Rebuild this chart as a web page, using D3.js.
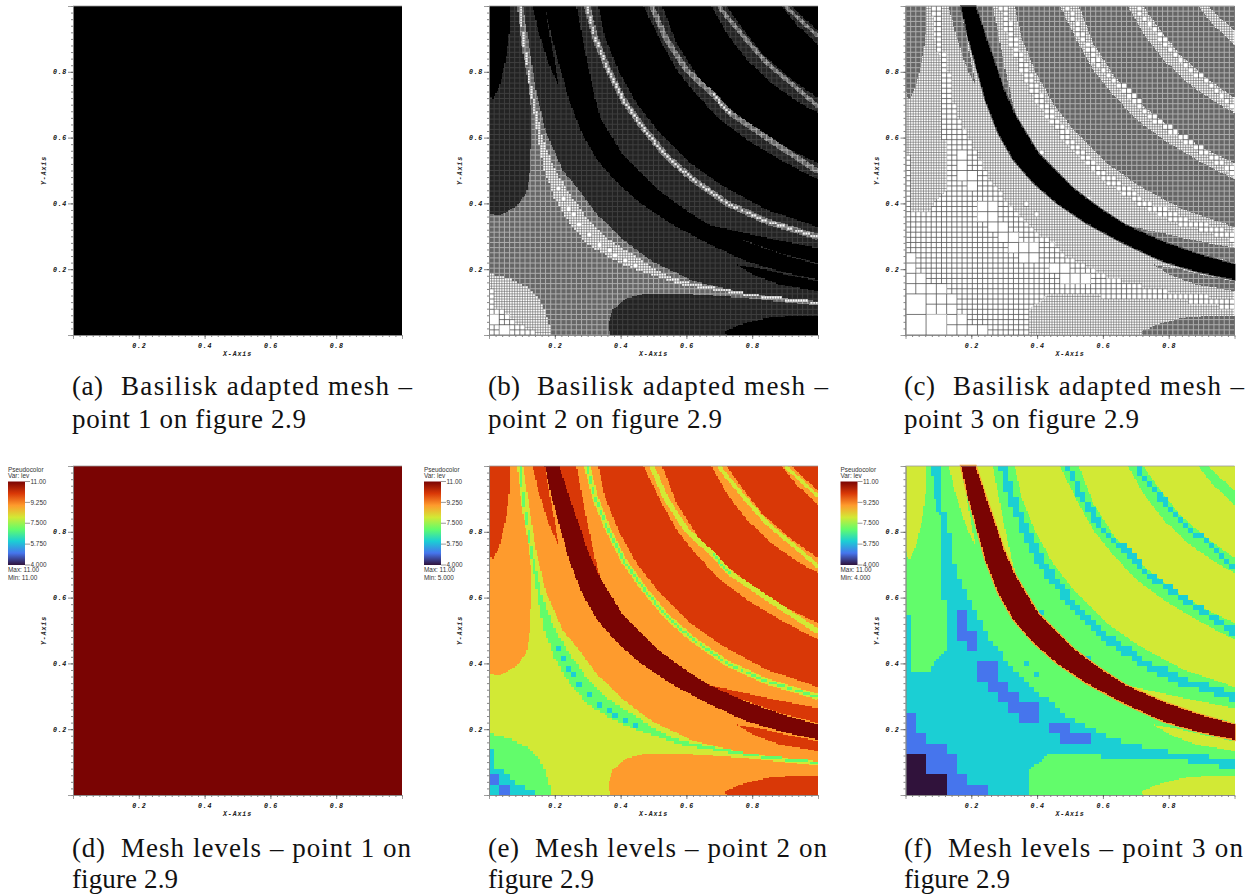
<!DOCTYPE html>
<html>
<head>
<meta charset="utf-8">
<script src="https://cdnjs.cloudflare.com/ajax/libs/d3/7.8.5/d3.min.js"></script>
<style>
html, body { margin: 0; padding: 0; background: #fff; }
svg { display: block; }
</style>
</head>
<body>
<div id="chart"></div>
<script>
// Mesh refinement levels and their pseudocolor
var levels = [4, 5, 6, 7, 8, 9, 10, 11];
var levelColors = ['#30123b', '#4675ed', '#1bcfd4', '#62fc6b', '#d2e935', '#fe9b2d', '#d93807', '#7a0403'];
var legendTicks = ['11.00', '9.250', '7.500', '5.750', '4.000'];
var majorTicks = [0.2, 0.4, 0.6, 0.8];
var minorTicks = d3.range(1, 50).map(function(i){ return i / 50; });

// Region outlines, in x/y axis units
var fullSquare = [[0, 0], [1, 0], [1, 1], [0, 1]];
var wedgeTopLeft = [[0, 1], [.061, 1], [.061, .918], [.053, .847], [.032, .756], [.014, .717], [.007, .72], [0, .746]];
var wedgeLeft = [[.132, 1], [.169, 1], [.213, .754], [.18, .827], [.149, .928]];
var wedgeRight = [[.215, 1], [.266, 1], [.281, .918], [.301, .817], [.321, .725], [.337, .665], [.296, .715], [.251, .817], [.225, .918]];
var stripA = [[.332, 1], [.352, .908], [.392, .806], [.448, .705], [.519, .614], [.611, .523], [.712, .452], [.844, .381], [1, .328], [1, .472], [.884, .533], [.783, .594], [.702, .655], [.631, .73], [.57, .806], [.514, .908], [.469, 1]];
var stripB = [[.527, 1], [.57, .888], [.631, .791], [.712, .705], [.813, .624], [.905, .568], [1, .523], [1, .675], [.945, .705], [.864, .761], [.783, .837], [.722, .918], [.676, 1]];
var stripC = [[.722, 1], [.773, .928], [.834, .852], [.915, .781], [1, .72], [1, .882], [.935, .943], [.889, 1]];
var stripD = [[.92, 1], [1, 1], [1, .923]];
var lineA = [[.298, 1], [.321, .908], [.362, .806], [.408, .715], [.469, .629], [.54, .543], [.621, .472], [.722, .401], [.844, .345], [1, .298]];
var lineB = [[.494, 1], [.54, .898], [.6, .806], [.682, .73], [.732, .675], [.884, .573], [1, .497]];
var lineBPart = [[.682, .73], [.732, .675]];
var lineC = [[.697, 1], [.773, .908], [.844, .827], [.935, .751], [1, .695]];
var lineD = [[.9, 1], [1, .908]];
var darkBand = [[.169, 1], [.19, .908], [.215, .817], [.243, .715], [.282, .614], [.328, .533], [.39, .462], [.46, .401], [.55, .34], [.661, .28], [.783, .224], [.884, .194], [1, .168],
	[1, .214], [.884, .247], [.783, .283], [.667, .335], [.59, .385], [.51, .445], [.403, .553], [.335, .665], [.297, .75], [.268, .837], [.24, .918], [.213, 1]];
var sliverUpper = [[.666, .335], [.732, .32], [.844, .295], [1, .264], [1, .219], [.884, .249], [.783, .285], [.712, .31]];
var sliverLower = [[.753, .214], [.813, .204], [.905, .183], [1, .163], [1, .133], [.884, .153], [.803, .183]];
var bottomRight = [[.717, .011], [.763, .031], [.844, .052], [.935, .06], [1, .06], [1, 0], [.722, 0]];

// Point 2 only
var upperRight = [[.103, 1], [.119, .898], [.144, .736], [.174, .614], [.225, .5], [.27, .445], [.33, .365], [.408, .29], [.499, .222], [.621, .165], [.783, .125], [1, .102], [1, 1]];
var leftBlob = [[0, 1], [.086, 1], [.098, .888], [.116, .786], [.129, .685], [.126, .513], [.114, .432], [.083, .391], [.027, .361], [0, .371]];
var bottomBlob = [[.367, 0], [.362, .036], [.377, .077], [.418, .112], [.479, .126], [.58, .126], [.783, .112], [1, .089], [1, 0]];
var cornerGreen = [[0, .188], [.073, .168], [.114, .148], [.154, .107], [.18, .047], [.19, 0], [0, 0]];
var cornerCyan = [[0, .143], [.017, .143], [.017, .082], [.048, .077], [.078, .031], [.139, .016], [.139, 0], [0, 0]];
var greenBand = [[.091, 1], [.103, .888], [.118, .786], [.134, .685], [.15, .593], [.167, .502], [.197, .421], [.24, .345], [.3, .275], [.377, .229], [.458, .194], [.58, .153], [.702, .133], [.834, .112], [1, .095],
	[1, .102], [.834, .119], [.702, .142], [.58, .166], [.509, .196], [.448, .239], [.377, .28], [.31, .34], [.25, .421], [.2, .502], [.164, .593], [.144, .685], [.124, .786], [.109, .888], [.098, 1]];
var cyanCells = [[.211, .446], [.227, .414], [.242, .383], [.259, .368], [.274, .336], [.305, .305], [.337, .274], [.368, .258], [.383, .242], [.415, .227], [.445, .212]];
var blueCells = [[.016, .047], [.047, .016]];

// Point 3 only
var coarseArea = [[0, 1], [.11, 1], [.11, .867], [.125, .857], [.142, .725], [.17, .644], [.206, .573], [.252, .482], [.312, .401], [.373, .33], [.444, .279], [.505, .23], [.596, .184], [.718, .148], [.86, .123], [1, .111], [1, 0], [0, 0]];
var coarseLeft = [[0, 1], [.079, 1], [.094, .862], [.11, .852], [.11, .594], [.125, .594], [.125, .442], [.079, .391], [.077, .376], [.016, .376], [.016, .548], [0, .548]];
var coarseBottom = [[.376, 0], [.376, .077], [.439, .126], [.596, .126], [.596, .112], [.86, .112], [.86, .097], [.956, .097], [.956, .08], [1, .08], [1, 0]];
var blueCorner = [[0, .249], [.03, .249], [.03, .188], [.064, .188], [.064, .158], [.125, .158], [.125, .126], [.157, .126], [.157, .062], [.189, .062], [.189, .031], [.252, .031], [.252, 0], [0, 0]];
var darkCorner = [[0, .126], [.064, .126], [.064, .064], [.125, .064], [.125, 0], [0, 0]];
var blueStep1 = [[.157, .563], [.189, .563], [.189, .5], [.22, .5], [.22, .438], [.189, .438], [.189, .469], [.157, .469]];
var blueStep2 = [[.22, .407], [.282, .407], [.282, .344], [.314, .344], [.314, .312], [.345, .312], [.345, .281], [.408, .281], [.408, .219], [.345, .219], [.345, .249], [.314, .249], [.314, .281], [.283, .281], [.283, .312], [.252, .312], [.252, .344], [.22, .344]];
var blueStep3 = [[.439, .219], [.502, .219], [.502, .188], [.564, .188], [.564, .156], [.471, .156], [.471, .188], [.439, .188]];
var coarseSpecks = [[.414, .555], [.368, .399], [.399, .369], [.556, .414]];

var captionLabels = ['(a)', '(b)', '(c)', '(d)', '(e)', '(f)'];
var captionFirst = ['Basilisk adapted mesh –', 'Basilisk adapted mesh –', 'Basilisk adapted mesh –', 'Mesh levels – point 1 on', 'Mesh levels – point 2 on', 'Mesh levels – point 3 on'];
var captionSecond = ['point 1 on figure 2.9', 'point 2 on figure 2.9', 'point 3 on figure 2.9', 'figure 2.9', 'figure 2.9', 'figure 2.9'];
var legendMins = ['11.00', '5.000', '4.000'];

var width = 1251;
var height = 895;
var plotSize = 329;
var colX = [73, 489, 905.5];
var rowY = [6, 466];
var labelEnds = [[103, 121, 412, 306], [520, 537, 828, 722], [935, 953, 1244, 1139], [105, 121, 411, 178], [519, 535, 827, 594], [932, 948, 1243, 1010]];
var labelStarts = [72, 488, 904];
var baselines = [[395, 428], [857, 888]];

var x = d3.scaleLinear().domain([0, 1]).range([0, plotSize]);
var y = d3.scaleLinear().domain([0, 1]).range([plotSize, 0]);
var colorOf = d3.scaleOrdinal().domain(levels).range(levelColors);
var clipCount = 0;

var svg = d3.select('#chart').append('svg').attr('width', width).attr('height', height)
	.style('background', '#fff');
var defs = svg.append('defs');

var gradient = defs.append('linearGradient').attr('id', 'levelRamp')
	.attr('x1', 0).attr('y1', 1).attr('x2', 0).attr('y2', 0);
levels.forEach(function(l, i){
	gradient.append('stop').attr('offset', i / (levels.length - 1)).attr('stop-color', levelColors[i]);
});

// Turns a read-off centre line into a thin outline
var thicken = function(line, half){
	var left = [], right = [];
	line.forEach(function(p, i){
		var a = line[Math.max(i - 1, 0)];
		var b = line[Math.min(i + 1, line.length - 1)];
		var dx = b[0] - a[0], dy = b[1] - a[1];
		var len = Math.sqrt(dx * dx + dy * dy);
		left.push([p[0] - dy / len * half, p[1] + dx / len * half]);
		right.unshift([p[0] + dy / len * half, p[1] - dx / len * half]);
	});
	return left.concat(right);
};

// The square of the level's grid that holds a point
var cellOutline = function(p, level){
	var n = Math.pow(2, level);
	var i = Math.floor(p[0] * n), j = Math.floor(p[1] * n);
	return [[i / n, j / n], [(i + 1) / n, j / n], [(i + 1) / n, (j + 1) / n], [i / n, (j + 1) / n]];
};

// A region is only ever refined in whole cells, so fill it cell by cell
var blockPath = function(shape, level){
	var n = Math.pow(2, Math.min(level, 8));
	var xs = d3.extent(shape, function(p){ return p[0]; });
	var ys = d3.extent(shape, function(p){ return p[1]; });
	var i0 = Math.max(Math.floor(xs[0] * n), 0), i1 = Math.min(Math.ceil(xs[1] * n), n);
	var j0 = Math.max(Math.floor(ys[0] * n), 0), j1 = Math.min(Math.ceil(ys[1] * n), n);
	var d = '';
	for(var j = j0; j < j1; j++){
		var start = -1;
		for(var i = i0; i <= i1; i++){
			var inside = i < i1 && d3.polygonContains(shape, [(i + 0.5) / n, (j + 0.5) / n]);
			if(inside && start < 0){
				start = i;
			}
			if(!inside && start >= 0){
				d += 'M' + x(start / n) + ',' + y((j + 1) / n) + 'H' + x(i / n) + 'V' + y(j / n) + 'H' + x(start / n) + 'Z';
				start = -1;
			}
		}
	}
	return d;
};

var gridPath = function(cells){
	var d = '';
	for(var i = 0; i <= cells; i++){
		d += 'M' + x(i / cells) + ',0V' + plotSize + 'M0,' + y(i / cells) + 'H' + plotSize;
	}
	return d;
};

var layersFlat = [{shape: fullSquare, level: 11}];
var layersPoint2 = [
	{shape: fullSquare, level: 8},
	{shape: upperRight, level: 9},
	{shape: leftBlob, level: 9},
	{shape: bottomBlob, level: 9},
	{shape: cornerGreen, level: 7},
	{shape: cornerCyan, level: 6},
	{shape: greenBand, level: 7},
	{shape: wedgeTopLeft, level: 10},
	{shape: wedgeLeft, level: 10},
	{shape: wedgeRight, level: 10},
	{shape: stripA, level: 10},
	{shape: stripB, level: 10},
	{shape: stripC, level: 10},
	{shape: stripD, level: 10},
	{shape: thicken(lineA, .009), level: 8},
	{shape: thicken(lineB, .008), level: 8},
	{shape: thicken(lineC, .006), level: 8},
	{shape: thicken(lineD, .005), level: 8},
	{shape: thicken(lineA, .003), level: 7},
	{shape: thicken(lineBPart, .003), level: 7},
	{shape: sliverUpper, level: 10},
	{shape: sliverLower, level: 10},
	{shape: bottomRight, level: 10},
	{shape: darkBand, level: 11}
];
cyanCells.forEach(function(p){
	layersPoint2.splice(7, 0, {shape: cellOutline(p, 6), level: 6});
});
blueCells.forEach(function(p){
	layersPoint2.splice(7, 0, {shape: cellOutline(p, 5), level: 5});
});

var layersPoint3 = [
	{shape: fullSquare, level: 7},
	{shape: coarseArea, level: 6},
	{shape: coarseLeft, level: 7},
	{shape: coarseBottom, level: 7},
	{shape: blueCorner, level: 5},
	{shape: darkCorner, level: 4},
	{shape: blueStep1, level: 5},
	{shape: blueStep2, level: 5},
	{shape: blueStep3, level: 5},
	{shape: wedgeTopLeft, level: 8},
	{shape: wedgeLeft, level: 8},
	{shape: wedgeRight, level: 8},
	{shape: stripA, level: 8},
	{shape: stripB, level: 8},
	{shape: stripC, level: 8},
	{shape: stripD, level: 8},
	{shape: thicken(lineA, .012), level: 6},
	{shape: thicken(lineB, .009), level: 6},
	{shape: thicken(lineC, .006), level: 6},
	{shape: sliverUpper, level: 8},
	{shape: sliverLower, level: 8},
	{shape: bottomRight, level: 8},
	{shape: darkBand, level: 11, rim: true}
];
coarseSpecks.forEach(function(p){
	layersPoint3.splice(9, 0, {shape: cellOutline(p, 6), level: 6});
});

[layersFlat, layersPoint2, layersPoint3].forEach(function(layers){
	layers.forEach(function(layer){
		layer.d = blockPath(layer.shape, layer.level);
	});
});

var rimLine = d3.line().x(function(p){ return x(p[0]); }).y(function(p){ return y(p[1]); }).curve(d3.curveLinearClosed);

var drawLevels = function(g, layers){
	layers.forEach(function(layer){
		if(layer.rim){
			g.append('path').attr('d', rimLine(layer.shape)).attr('fill', 'none')
				.attr('stroke', colorOf(9)).attr('stroke-width', 2.4);
		}
		g.append('path').attr('d', layer.d).attr('fill', colorOf(layer.level)).attr('shape-rendering', 'crispEdges');
	});
};

// What the cell edges look like once the mesh plot has been scaled down
var meshStyle = function(level){
	if(level >= 10) return {fill: '#000'};
	if(level === 9) return {fill: '#232323', line: '#3f3f3f', cells: 64, lineWidth: 1};
	if(level === 8) return {fill: '#666', line: '#adadad', cells: 64, lineWidth: 1};
	if(level === 7) return {fill: '#fff', line: '#666', cells: 128, lineWidth: 0.6};
	return {fill: '#fff', line: '#555', cells: Math.pow(2, level), lineWidth: 0.8};
};

var drawMesh = function(g, layers){
	layers.forEach(function(layer){
		var style = meshStyle(layer.level);
		if(layer.rim){
			g.append('path').attr('d', rimLine(layer.shape)).attr('fill', 'none')
				.attr('stroke', '#444').attr('stroke-width', 2);
		}
		g.append('path').attr('d', layer.d).attr('fill', style.fill).attr('shape-rendering', 'crispEdges');
		if(style.line){
			var clipId = 'mesh-clip-' + (clipCount++);
			defs.append('clipPath').attr('id', clipId).append('path').attr('d', layer.d);
			g.append('path').attr('d', gridPath(style.cells)).attr('clip-path', 'url(#' + clipId + ')')
				.attr('fill', 'none').attr('stroke', style.line).attr('stroke-width', style.lineWidth);
		}
	});
};

var drawAxes = function(g){
	var axisColor = '#333';
	var bottom = g.append('g').attr('transform', 'translate(0,' + plotSize + ')');
	bottom.call(d3.axisBottom(x).tickValues(minorTicks).tickSize(2).tickFormat(''));
	var bottomMajor = g.append('g').attr('transform', 'translate(0,' + plotSize + ')');
	bottomMajor.call(d3.axisBottom(x).tickValues(majorTicks).tickSize(4).tickPadding(4).tickFormat(d3.format('.1f')));
	var left = g.append('g');
	left.call(d3.axisLeft(y).tickValues(minorTicks).tickSize(2).tickFormat(''));
	var leftMajor = g.append('g');
	leftMajor.call(d3.axisLeft(y).tickValues(majorTicks).tickSize(5).tickPadding(1).tickFormat(d3.format('.1f')));
	g.selectAll('.domain').attr('stroke', '#888').attr('stroke-width', 0.8);
	g.selectAll('.tick line').attr('stroke', axisColor).attr('stroke-width', 0.6);
	g.selectAll('.tick text').attr('font-family', 'Liberation Mono').attr('font-size', 6.6)
		.attr('font-weight', 'bold').attr('font-style', 'italic').attr('letter-spacing', 0.7).attr('fill', '#111');
	g.append('path').attr('d', 'M0,0H' + plotSize).attr('stroke', '#999').attr('stroke-width', 0.8);

	g.append('text').attr('x', x(0.5)).attr('y', plotSize + 20.5).attr('text-anchor', 'middle')
		.attr('font-family', 'Liberation Mono').attr('font-size', 6.6).attr('font-weight', 'bold')
		.attr('font-style', 'italic').attr('letter-spacing', 0.9).attr('fill', '#222').text('X-Axis');
	g.append('text').attr('transform', 'translate(-27,' + y(0.5) + ') rotate(-90)').attr('text-anchor', 'middle')
		.attr('font-family', 'Liberation Mono').attr('font-size', 6.6).attr('font-weight', 'bold')
		.attr('font-style', 'italic').attr('letter-spacing', 0.9).attr('fill', '#222').text('Y-Axis');
};

var drawLegend = function(g, minLabel){
	var legendFont = function(sel){
		return sel.attr('font-family', 'Liberation Sans').attr('font-size', 6.4).attr('fill', '#333');
	};
	var barX = -65, barWidth = 17, barTop = 15.5, barHeight = 83.5;
	legendFont(g.append('text').attr('x', barX).attr('y', 5.5).text('Pseudocolor'));
	legendFont(g.append('text').attr('x', barX).attr('y', 12).text('Var: lev'));
	g.append('rect').attr('x', barX).attr('y', barTop).attr('width', barWidth).attr('height', barHeight)
		.attr('fill', 'url(#levelRamp)');
	legendTicks.forEach(function(label, i){
		var ty = barTop + barHeight * i / (legendTicks.length - 1);
		g.append('path').attr('d', 'M' + (barX + barWidth) + ',' + ty + 'h5').attr('stroke', '#555').attr('stroke-width', 0.6);
		legendFont(g.append('text').attr('x', barX + barWidth + 5.5).attr('y', ty + 2.2).text(label));
	});
	legendFont(g.append('text').attr('x', barX).attr('y', 106).text('Max: 11.00'));
	legendFont(g.append('text').attr('x', barX).attr('y', 113.5).text('Min: ' + minLabel));
};

var drawCaption = function(i){
	var col = i % 3, row = Math.floor(i / 3);
	var ends = labelEnds[i];
	var captionText = function(str, x0, x1, baseline){
		svg.append('text').attr('x', x0).attr('y', baseline).attr('textLength', x1 - x0)
			.attr('lengthAdjust', 'spacing').attr('font-family', 'Liberation Serif').attr('font-size', 27)
			.attr('fill', '#111').text(str);
	};
	captionText(captionLabels[i], labelStarts[col], ends[0], baselines[row][0]);
	captionText(captionFirst[i], ends[1], ends[2], baselines[row][0]);
	captionText(captionSecond[i], labelStarts[col], ends[3], baselines[row][1]);
};

var layerSets = [layersFlat, layersPoint2, layersPoint3];
d3.range(6).forEach(function(i){
	var col = i % 3, row = Math.floor(i / 3);
	var g = svg.append('g').attr('transform', 'translate(' + colX[col] + ',' + rowY[row] + ')');
	if(row === 0){
		drawMesh(g, layerSets[col]);
	} else {
		drawLevels(g, layerSets[col]);
		drawLegend(g, legendMins[col]);
	}
	drawAxes(g);
	drawCaption(i);
});
</script>
</body>
</html>
